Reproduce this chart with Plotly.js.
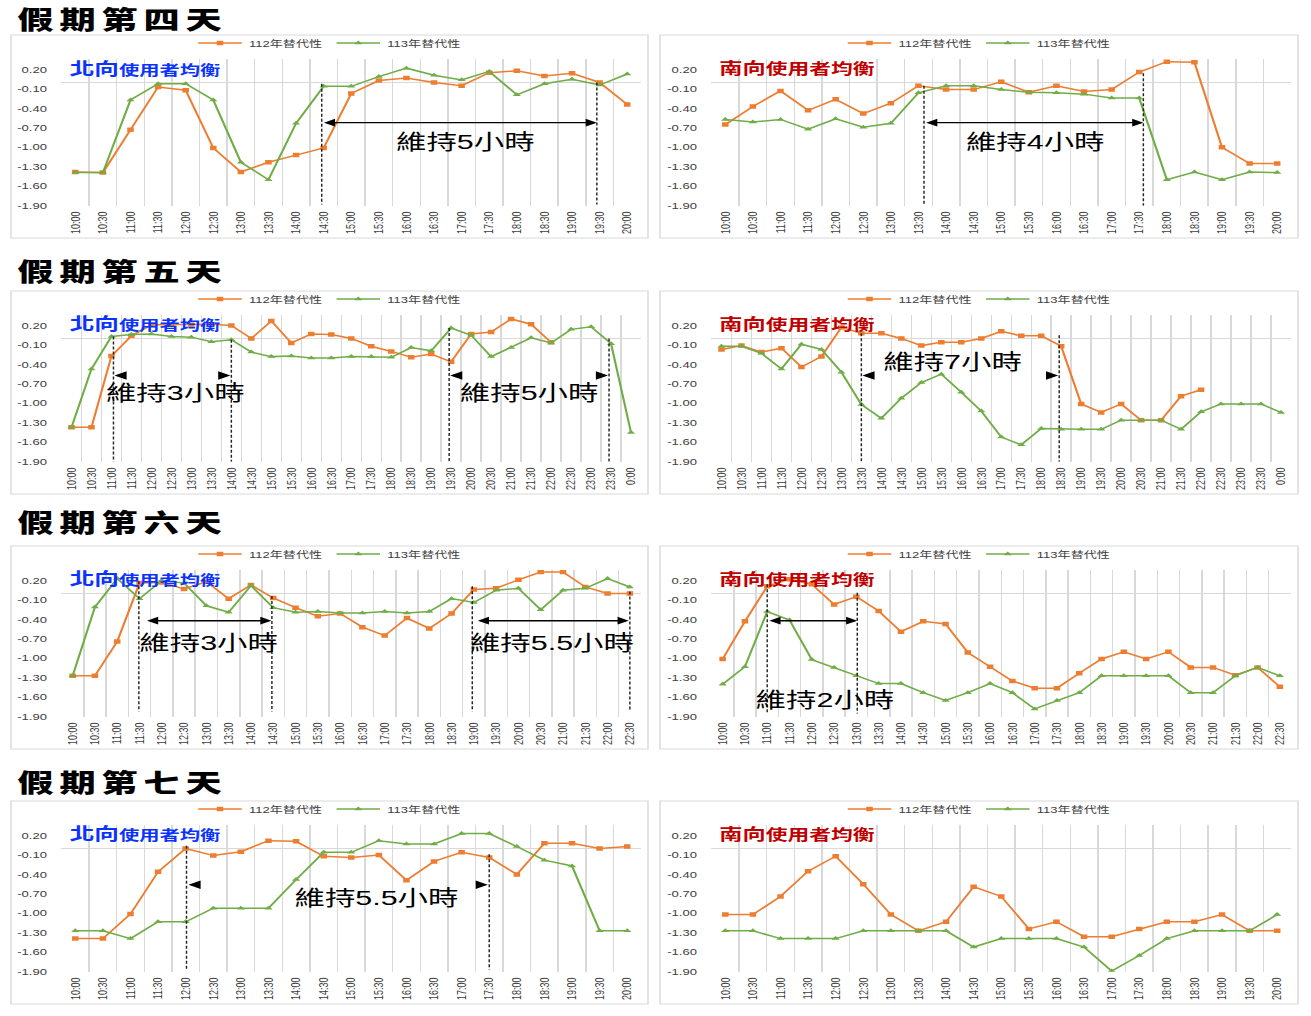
<!DOCTYPE html>
<html><head><meta charset="utf-8">
<script src="https://cdn.plot.ly/plotly-3.0.1.min.js"></script>
<style>
html,body{margin:0;padding:0;background:#fff;overflow:hidden;}
#wrap{width:1311px;height:1016px;overflow:hidden;position:relative;}
#chart{width:904px;height:1016px;transform:scaleX(1.450221);transform-origin:0 0;}
</style></head><body><div id="wrap"><div id="chart"></div></div>
<script>
// ---------- data ----------
const times21 = ['10:00','10:30','11:00','11:30','12:00','12:30','13:00','13:30','14:00','14:30','15:00','15:30','16:00','16:30','17:00','17:30','18:00','18:30','19:00','19:30','20:00'];
const times29 = ['10:00','10:30','11:00','11:30','12:00','12:30','13:00','13:30','14:00','14:30','15:00','15:30','16:00','16:30','17:00','17:30','18:00','18:30','19:00','19:30','20:00','20:30','21:00','21:30','22:00','22:30','23:00','23:30','0:00'];
const times26 = ['10:00','10:30','11:00','11:30','12:00','12:30','13:00','13:30','14:00','14:30','15:00','15:30','16:00','16:30','17:00','17:30','18:00','18:30','19:00','19:30','20:00','20:30','21:00','21:30','22:00','22:30'];

const seriesNames = ['112年替代性', '113年替代性'];
const dayTitles = ['假期第四天', '假期第五天', '假期第六天', '假期第七天'];
const yTicks = [0.2, -0.1, -0.4, -0.7, -1.0, -1.3, -1.6, -1.9];
const yTickText = ['0.20', '-0.10', '-0.40', '-0.70', '-1.00', '-1.30', '-1.60', '-1.90'];

const d4n112 = [-1.38,-1.39,-0.73,-0.07,-0.12,-1.01,-1.38,-1.23,-1.12,-1.01,-0.17,0.03,0.07,0.00,-0.05,0.15,0.18,0.10,0.14,0.00,-0.34];
const d4n113 = [-1.39,-1.39,-0.27,-0.02,-0.02,-0.27,-1.23,-1.50,-0.63,-0.06,-0.06,0.09,0.22,0.11,0.04,0.17,-0.19,-0.02,0.05,-0.04,0.13];
const d4s112 = [-0.65,-0.37,-0.13,-0.43,-0.26,-0.48,-0.32,-0.05,-0.11,-0.11,0.01,-0.15,-0.05,-0.14,-0.11,0.16,0.32,0.31,-1.00,-1.25,-1.25];
const d4s113 = [-0.57,-0.61,-0.57,-0.72,-0.56,-0.69,-0.63,-0.16,-0.05,-0.05,-0.11,-0.15,-0.16,-0.18,-0.24,-0.24,-1.50,-1.38,-1.50,-1.38,-1.39];

const d5n112 = [-1.37,-1.37,-0.27,0.04,0.21,0.21,0.21,0.22,0.20,0.00,0.27,-0.07,0.07,0.06,0.00,-0.12,-0.20,-0.29,-0.24,-0.36,0.07,0.10,0.30,0.22,-0.06,null,null,null,null];
const d5n113 = [-1.37,-0.47,0.03,0.06,0.07,0.03,0.02,-0.05,-0.02,-0.21,-0.28,-0.27,-0.30,-0.30,-0.28,-0.28,-0.29,-0.14,-0.19,0.16,0.05,-0.28,-0.14,0.01,-0.07,0.14,0.18,-0.08,-1.45];
const d5s112 = [-0.17,-0.11,-0.21,-0.15,-0.44,-0.28,0.17,0.08,0.08,0.00,-0.11,-0.06,-0.06,0.00,0.11,0.04,0.04,-0.12,-1.01,-1.14,-1.01,-1.26,-1.26,-0.89,-0.79,null,null,null,null];
const d5s113 = [-0.12,-0.12,-0.23,-0.47,-0.09,-0.17,-0.52,-1.02,-1.23,-0.92,-0.68,-0.55,-0.83,-1.12,-1.52,-1.64,-1.39,-1.40,-1.40,-1.40,-1.26,-1.26,-1.26,-1.40,-1.13,-1.01,-1.01,-1.01,-1.14];

const d6n112 = [-1.27,-1.27,-0.74,0.16,0.17,0.07,0.18,-0.08,0.13,-0.07,-0.22,-0.35,-0.31,-0.52,-0.65,-0.38,-0.54,-0.31,0.06,0.08,0.21,0.33,0.33,0.10,0.00,0.00];
const d6n113 = [-1.27,-0.21,0.23,-0.08,0.20,0.16,-0.19,-0.29,0.12,-0.22,-0.29,-0.28,-0.30,-0.30,-0.28,-0.30,-0.28,-0.08,-0.14,0.05,0.08,-0.25,0.05,0.08,0.23,0.10];
const d6s112 = [-1.01,-0.43,0.11,0.22,0.14,-0.17,-0.05,-0.27,-0.59,-0.43,-0.47,-0.91,-1.13,-1.35,-1.46,-1.46,-1.23,-1.01,-0.90,-1.01,-0.90,-1.14,-1.14,-1.26,-1.14,-1.44];
const d6s113 = [-1.40,-1.13,-0.28,-0.41,-1.02,-1.14,-1.27,-1.39,-1.39,-1.53,-1.65,-1.53,-1.39,-1.53,-1.78,-1.65,-1.53,-1.27,-1.27,-1.27,-1.27,-1.53,-1.53,-1.27,-1.14,-1.27];

const d7n112 = [-1.39,-1.39,-1.01,-0.36,0.00,-0.11,-0.05,0.12,0.11,-0.12,-0.14,-0.10,-0.49,-0.20,-0.06,-0.14,-0.40,0.08,0.08,0.00,0.03];
const d7n113 = [-1.27,-1.27,-1.39,-1.13,-1.13,-0.92,-0.92,-0.92,-0.48,-0.06,-0.06,0.12,0.07,0.07,0.23,0.23,0.03,-0.18,-0.27,-1.27,-1.27];
const d7s112 = [-1.02,-1.02,-0.74,-0.35,-0.12,-0.55,-1.02,-1.27,-1.13,-0.59,-0.74,-1.24,-1.13,-1.36,-1.36,-1.24,-1.13,-1.13,-1.02,-1.27,-1.27];
const d7s113 = [-1.27,-1.27,-1.39,-1.39,-1.39,-1.27,-1.27,-1.27,-1.27,-1.52,-1.39,-1.39,-1.39,-1.52,-1.89,-1.65,-1.39,-1.27,-1.27,-1.27,-1.02];

// ---------- layout / styling ----------
const W = 1311, H = 1016;
const px = v => v / W, py = v => 1 - v / H;
const frameTops = [35, 291, 546, 801];
const frameH = 203;
const headingY = [18, 270, 521, 781];
const colL = [11, 660], colR = [648, 1298];
const plotL = [61.5, 711.5], plotR = [641, 1291];
const COL112 = '#ED7D31', COL113 = '#70AD47';
const GRID = '#d9d9d9';
const LAT = 'Liberation Sans, Arial, Noto Sans CJK TC';
const CJK = 'Noto Sans CJK TC';

const panels = [
  {row:0,col:0,cats:times21,a:d4n112,b:d4n113,
   v:[[8.93,-0.02,-1.88],[18.9,0.0,-1.88]], d:[[8.93,18.9,-0.62]], h:[], t:[[14.15,-0.91,'維持5小時']]},
  {row:0,col:1,cats:times21,a:d4s112,b:d4s113,
   v:[[7.2,-0.05,-1.9],[15.15,0.14,-1.9]], d:[[7.2,15.15,-0.62]], h:[], t:[[11.26,-0.91,'維持4小時']]},
  {row:1,col:0,cats:times29,a:d5n112,b:d5n113,
   v:[[2.1,0.03,-1.9],[8.0,-0.02,-1.9],[18.9,0.16,-1.9],[26.9,0.0,-1.9]], d:[],
   h:[[2.15,-0.57,-1],[7.95,-0.57,1],[18.95,-0.57,-1],[26.85,-0.57,1]],
   t:[[5.2,-0.84,'維持3小時'],[22.9,-0.84,'維持5小時']]},
  {row:1,col:1,cats:times29,a:d5s112,b:d5s113,
   v:[[7.0,0.08,-1.9],[16.9,0.05,-1.9]], d:[], h:[[7.05,-0.57,-1],[16.85,-0.57,1]],
   t:[[11.55,-0.35,'維持7小時']]},
  {row:2,col:0,cats:times26,a:d6n112,b:d6n113,
   v:[[2.97,0.19,-1.82],[8.94,-0.04,-1.82],[17.93,0.11,-1.82],[25.0,0.03,-1.82]],
   d:[[3.24,8.92,-0.42],[18.08,24.95,-0.42]], h:[],
   t:[[6.08,-0.76,'維持3小時'],[21.47,-0.76,'維持5.5小時']]},
  {row:2,col:1,cats:times26,a:d6s112,b:d6s113,
   v:[[2.0,0.14,-1.85],[6.04,0.01,-1.85]], d:[[2.0,6.04,-0.42]], h:[],
   t:[[4.6,-1.63,'維持2小時']]},
  {row:3,col:0,cats:times21,a:d7n112,b:d7n113,
   v:[[4.03,0.04,-1.87],[15.0,-0.09,-1.87]], d:[], h:[[4.1,-0.56,-1],[14.95,-0.56,1]],
   t:[[10.9,-0.75,'維持5.5小時']]},
  {row:3,col:1,cats:times21,a:d7s112,b:d7s113, v:[], d:[], h:[], t:[]}
];

const data = [];
const layout = {
  width: 904, height: 1016, autosize: false,
  margin: {l:0, r:0, t:0, b:0, pad:0},
  paper_bgcolor: '#fff', plot_bgcolor: '#fff',
  showlegend: true,
  shapes: [], annotations: []
};
const letterSpacing = {};

// headings
dayTitles.forEach((t, r) => {
  letterSpacing[layout.annotations.length] = 4;
  layout.annotations.push({
    xref:'paper', yref:'paper', x: px(15), y: py(headingY[r]), xanchor:'left', yanchor:'middle',
    align:'left', showarrow:false, text: t,
    font:{family: CJK, size: 25, color:'#000', weight: 900}
  });
});

panels.forEach((p, i) => {
  const n = i + 1;
  const xr = n === 1 ? 'x' : 'x' + n, yr = n === 1 ? 'y' : 'y' + n;
  const xk = n === 1 ? 'xaxis' : 'xaxis' + n, yk = n === 1 ? 'yaxis' : 'yaxis' + n;
  const lk = n === 1 ? 'legend' : 'legend' + n;
  const ft = frameTops[p.row];
  const N = p.cats.length;

  layout[xk] = {
    type:'category', domain:[px(plotL[p.col]), px(plotR[p.col])], anchor: yr,
    range:[-0.5, N - 0.5], tickson:'boundaries', showgrid:true, gridcolor:GRID, gridwidth:1,
    zeroline:false, showline:false, ticks:'', tickangle:-90, ticklabelstandoff: 3,
    tickfont:{family:LAT, size:9, color:'#404040'}, fixedrange:true
  };
  layout[yk] = {
    domain:[py(ft + 170.7), py(ft + 24.1)], anchor: xr,
    range:[-1.9, 0.36], tickmode:'array', tickvals: yTicks, ticktext: yTickText,
    showgrid:false, zeroline:true, zerolinecolor:GRID, zerolinewidth:1, showline:false,
    ticks:'', ticklabelstandoff: 9, tickfont:{family:LAT, size:9, color:'#404040'}, fixedrange:true
  };
  layout[lk] = {
    orientation:'h', x: px((colL[p.col] + colR[p.col]) / 2), y: py(ft + 8),
    xanchor:'center', yanchor:'middle', bgcolor:'rgba(0,0,0,0)', itemwidth:30,
    font:{family:LAT, size:9, color:'#404040'}, tracegroupgap:0
  };

  data.push({
    type:'scatter', mode:'lines+markers', x:p.cats, y:p.a, name:seriesNames[0],
    xaxis:xr, yaxis:yr, legend:lk, connectgaps:false,
    line:{color:COL112, width:1.5}, marker:{symbol:'square', size:4.5, color:COL112}
  });
  data.push({
    type:'scatter', mode:'lines+markers', x:p.cats, y:p.b, name:seriesNames[1],
    xaxis:xr, yaxis:yr, legend:lk,
    line:{color:COL113, width:1.5}, marker:{symbol:'triangle-up', size:5, color:COL113}
  });

  // frame
  layout.shapes.push({type:'rect', xref:'paper', yref:'paper',
    x0:px(colL[p.col]), x1:px(colR[p.col]), y0:py(ft), y1:py(ft + frameH),
    line:{color:GRID, width:1}, fillcolor:'rgba(0,0,0,0)', layer:'below'});

  // panel title
  const north = p.col === 0;
  layout.annotations.push({
    xref:'paper', yref:'paper', x: px(north ? 66 : 716), y: py(ft + (p.row === 0 ? 32 : 31.5)),
    xanchor:'left', yanchor:'middle', showarrow:false,
    text: north ? "<b>北向<span style='font-size:14px'>使用者均衡</span></b>"
                : "<b>南向<span style='font-size:15px'>使用者均衡</span></b>",
    font:{family:CJK, size: north ? 17 : 16, color: north ? '#0a33ff' : '#c00000'}
  });

  // dashed verticals
  p.v.forEach(v => layout.shapes.push({type:'line', xref:xr, yref:yr, x0:v[0], x1:v[0], y0:v[1], y1:v[2],
    line:{color:'#222', width:1, dash:'3px,2px'}}));
  // double arrows
  p.d.forEach(d => layout.annotations.push({xref:xr, yref:yr, axref:xr, ayref:yr,
    x:d[1], y:d[2], ax:d[0], ay:d[2], text:'', showarrow:true, arrowside:'end+start',
    arrowhead:2, arrowsize:1.1, arrowwidth:1.4, arrowcolor:'#000', standoff:0, startstandoff:0}));
  // single heads
  p.h.forEach(h => layout.annotations.push({xref:xr, yref:yr, axref:xr, ayref:yr,
    x:h[0], y:h[1], ax:h[0] - h[2] * (N > 25 ? 0.45 : 0.35), ay:h[1], text:'', showarrow:true,
    arrowhead:2, arrowsize:1.2, arrowwidth:1.4, arrowcolor:'#000', standoff:0}));
  // duration text
  p.t.forEach(t => layout.annotations.push({xref:xr, yref:yr, x:t[0], y:t[1], text:t[2],
    showarrow:false, xanchor:'center', yanchor:'middle',
    font:{family:LAT, size:21, color:'#000'}}));
});

Plotly.newPlot('chart', data, layout, {displayModeBar:false, staticPlot:true, responsive:false}).then(() => {
  document.querySelectorAll('#chart .annotation').forEach(g => {
    const idx = +g.getAttribute('data-index');
    if (letterSpacing[idx] !== undefined) {
      const t = g.querySelector('text');
      if (t) t.style.letterSpacing = letterSpacing[idx] + 'px';
    }
  });
});
</script>
</body></html>
